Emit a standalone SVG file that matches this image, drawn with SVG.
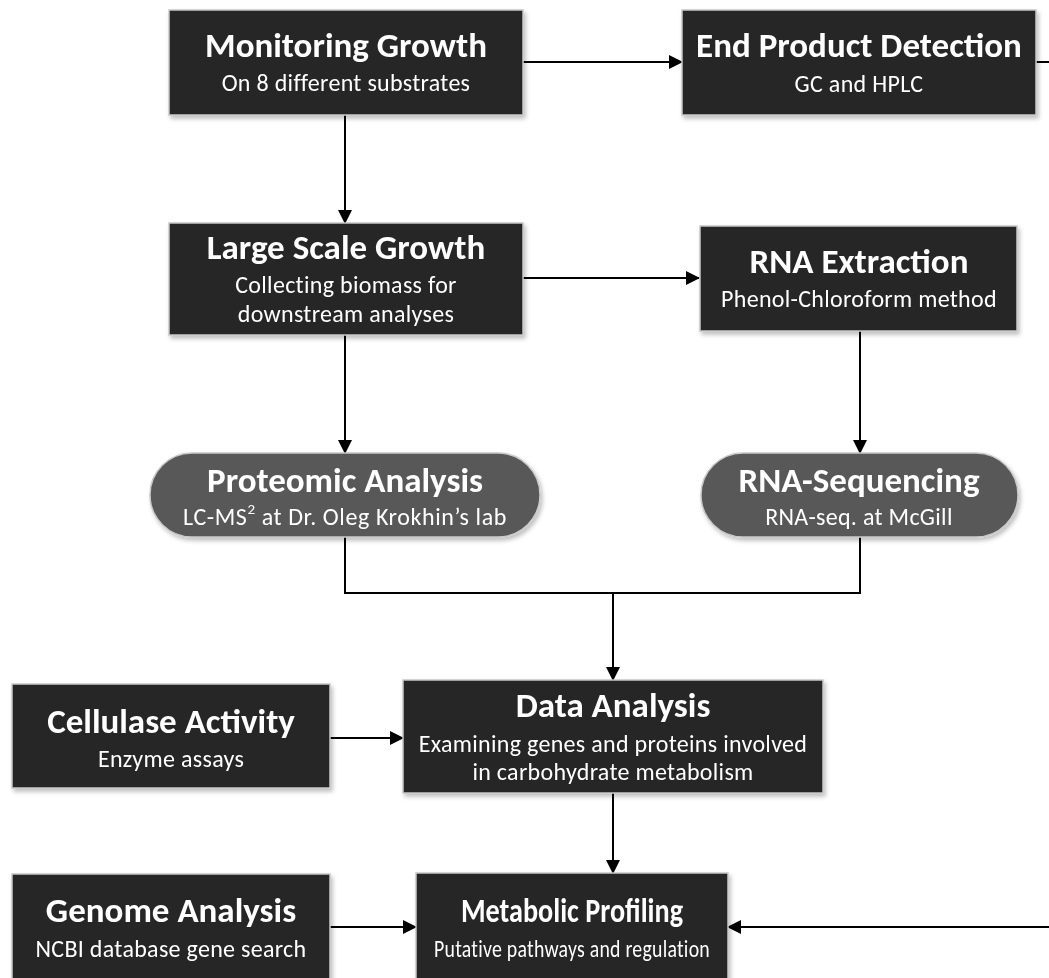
<svg xmlns="http://www.w3.org/2000/svg" width="1049" height="978" viewBox="0 0 1049 978">
<style>
.box{fill:#262626;stroke:#c8c8c8;stroke-width:1.5}
.pill{fill:#595959;stroke:#c8c8c8;stroke-width:1.5}
.t{font-family:Carlito,Calibri,Lato,"Liberation Sans",sans-serif;font-weight:bold;font-size:35px;fill:#ffffff;text-anchor:middle}
.s{font-family:Carlito,Calibri,Lato,"Liberation Sans",sans-serif;font-size:24px;letter-spacing:0.3px;fill:#ffffff;text-anchor:middle}
.c{fill:none;stroke:#000;stroke-width:2}
</style>
<defs>
<filter id="sh" x="-5%" y="-5%" width="115%" height="120%">
<feDropShadow dx="2" dy="3" stdDeviation="2" flood-color="#000" flood-opacity="0.25"/>
</filter>
<marker id="ah" markerWidth="14" markerHeight="14" refX="13" refY="7" orient="auto" markerUnits="userSpaceOnUse">
<path d="M0,0 L14,7 L0,14 Z" fill="#000"/>
</marker>
</defs>
<rect width="1049" height="978" fill="#ffffff"/>
<g id="connectors">
<path class="c" d="M523,62 H682" marker-end="url(#ah)"/>
<path class="c" d="M1036,62 H1049"/>
<path class="c" d="M345,115 V223" marker-end="url(#ah)"/>
<path class="c" d="M523,278 H699" marker-end="url(#ah)"/>
<path class="c" d="M345,335 V453" marker-end="url(#ah)"/>
<path class="c" d="M860,331 V453" marker-end="url(#ah)"/>
<path class="c" d="M345,537 V593 H860 V537"/>
<path class="c" d="M613,593 V680" marker-end="url(#ah)"/>
<path class="c" d="M330,738 H403" marker-end="url(#ah)"/>
<path class="c" d="M613,793 V873" marker-end="url(#ah)"/>
<path class="c" d="M330,927 H416" marker-end="url(#ah)"/>
<path class="c" d="M1049,927 H728" marker-end="url(#ah)"/>
</g>
<g id="monitoring-growth" filter="url(#sh)">
<rect class="box" x="169" y="10" width="354" height="105"/>
<text class="t" x="346" y="57">Monitoring Growth</text>
<text class="s" x="346" y="91">On 8 different substrates</text>
</g>
<g id="end-product-detection" filter="url(#sh)">
<rect class="box" x="682" y="10" width="354" height="105"/>
<text class="t" x="859" y="57">End Product Detection</text>
<text class="s" x="859" y="92">GC and HPLC</text>
</g>
<g id="large-scale-growth" filter="url(#sh)">
<rect class="box" x="169" y="223" width="354" height="112"/>
<text class="t" x="346" y="259">Large Scale Growth</text>
<text class="s" x="346" y="293">Collecting biomass for</text>
<text class="s" x="346" y="322">downstream analyses</text>
</g>
<g id="rna-extraction" filter="url(#sh)">
<rect class="box" x="700" y="226" width="317" height="105"/>
<text class="t" x="859" y="273">RNA Extraction</text>
<text class="s" x="859" y="307">Phenol-Chloroform method</text>
</g>
<g id="proteomic-analysis" filter="url(#sh)">
<rect class="pill" x="150" y="453" width="390" height="84" rx="42"/>
<text class="t" x="345" y="492">Proteomic Analysis</text>
<text class="s" x="345" y="525" style="letter-spacing:0.6px">LC-MS<tspan style="font-size:15px" dy="-11">2</tspan><tspan dy="11"> at Dr. Oleg Krokhin’s lab</tspan></text>
</g>
<g id="rna-sequencing" filter="url(#sh)">
<rect class="pill" x="701" y="453" width="317" height="84" rx="42"/>
<text class="t" x="859" y="492">RNA-Sequencing</text>
<text class="s" x="859" y="525">RNA-seq. at McGill</text>
</g>
<g id="cellulase-activity" filter="url(#sh)">
<rect class="box" x="12" y="684" width="318" height="104"/>
<text class="t" x="171" y="733">Cellulase Activity</text>
<text class="s" x="171" y="767">Enzyme assays</text>
</g>
<g id="data-analysis" filter="url(#sh)">
<rect class="box" x="403" y="680" width="420" height="113"/>
<text class="t" x="613" y="717">Data Analysis</text>
<text class="s" x="613" y="752">Examining genes and proteins involved</text>
<text class="s" x="613" y="780">in carbohydrate metabolism</text>
</g>
<g id="genome-analysis" filter="url(#sh)">
<rect class="box" x="12" y="874" width="318" height="115"/>
<text class="t" x="171" y="922">Genome Analysis</text>
<text class="s" x="171" y="957">NCBI database gene search</text>
</g>
<g id="metabolic-profiling" filter="url(#sh)">
<rect class="box" x="416" y="873" width="312" height="115"/>
<text class="t" x="572" y="922" textLength="222" lengthAdjust="spacingAndGlyphs">Metabolic Profiling</text>
<text class="s" x="572" y="957" textLength="276" lengthAdjust="spacingAndGlyphs">Putative pathways and regulation</text>
</g>
</svg>
